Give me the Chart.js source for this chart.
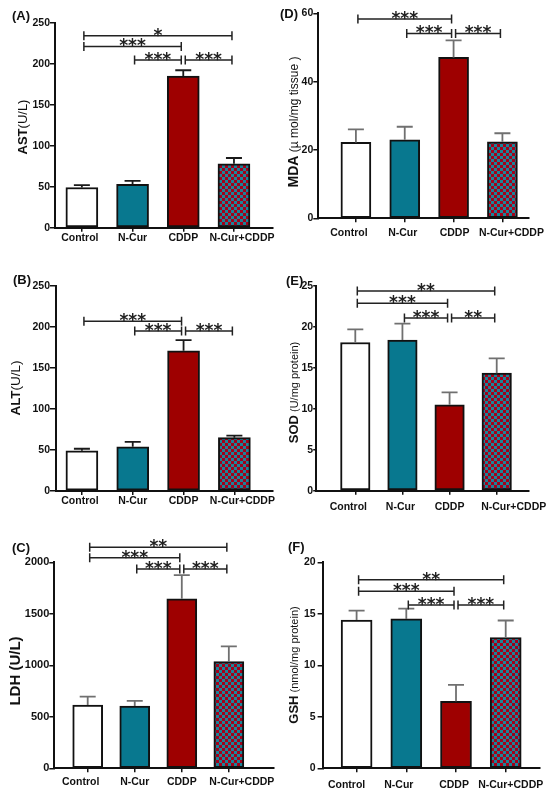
<!DOCTYPE html>
<html>
<head>
<meta charset="utf-8">
<script src="https://cdn.jsdelivr.net/npm/chart.js@4.4.1/dist/chart.umd.min.js"></script>
<style>
  body { margin: 0; background: #fff; }
  #wrap { position: relative; width: 550px; height: 800px; }
  .panel { position: absolute; }
</style>
</head>
<body>
<div id="wrap">
  <div class="panel" style="left:0;top:0;width:275px;height:260px"><canvas id="cA"></canvas></div>
  <div class="panel" style="left:275px;top:0;width:275px;height:260px"><canvas id="cD"></canvas></div>
  <div class="panel" style="left:0;top:260px;width:275px;height:260px"><canvas id="cB"></canvas></div>
  <div class="panel" style="left:275px;top:260px;width:275px;height:260px"><canvas id="cE"></canvas></div>
  <div class="panel" style="left:0;top:520px;width:275px;height:280px"><canvas id="cC"></canvas></div>
  <div class="panel" style="left:275px;top:520px;width:275px;height:280px"><canvas id="cF"></canvas></div>
</div>
<script>
const groups = ['Control', 'N-Cur', 'CDDP', 'N-Cur+CDDP'];

// mean and SEM
const astMean = [49, 53, 185, 78];
const astSem = [3, 4, 7, 7];
const altMean = [49, 54, 171, 65];
const altSem = [2.5, 6, 13, 2.5];
const ldhMean = [615, 605, 1645, 1035];
const ldhSem = [80, 50, 230, 148];
const mdaMean = [22.2, 23, 47.1, 22.4];
const mdaSem = [3.8, 3.8, 5, 2.5];
const sodMean = [18.1, 18.4, 10.5, 14.35];
const sodSem = [1.6, 2, 1.5, 1.8];
const gshMean = [14.4, 14.5, 6.5, 12.7];
const gshSem = [0.9, 1, 1.6, 1.65];

// significance brackets: [from group, to group, height, stars]
const astSig = [[0, 3, 234, '*'], [0, 2, 221, '***'], [1, 2, 204.5, '***'], [2, 3, 204.5, '***']];
const altSig = [[0, 2, 207, '***'], [1, 2, 195, '***'], [2, 3, 195, '***']];
const ldhSig = [[0, 3, 2145, '**'], [0, 2, 2045, '***'], [1, 2, 1935, '***'], [2, 3, 1935, '***']];
const mdaSig = [[0, 2, 58.3, '***'], [1, 2, 54.1, '***'], [2, 3, 54.1, '***']];
const sodSig = [[0, 3, 24.4, '**'], [0, 2, 22.9, '***'], [1, 2, 21.1, '***'], [2, 3, 21.1, '**']];
const gshSig = [[0, 3, 18.3, '**'], [0, 2, 17.2, '***'], [1, 2, 15.85, '***'], [2, 3, 15.85, '***']];

const FONT = 'Arial, "Liberation Sans", Helvetica, sans-serif';

function checker() {
  const c = document.createElement('canvas');
  c.width = 6; c.height = 6;
  const g = c.getContext('2d');
  g.fillStyle = '#1a8499';
  g.fillRect(0, 0, 6, 6);
  g.fillStyle = '#a3001a';
  g.fillRect(0, 0, 3, 3);
  g.fillRect(3, 3, 3, 3);
  return g.createPattern(c, 'repeat');
}
const fills = ['#ffffff', '#08788f', '#9e0000', checker()];

// error bars, brackets, x labels, y title and panel tag
const decor = {
  id: 'decor',
  afterDraw(chart) {
    const p = chart.options.plugins.decor;
    const ctx = chart.ctx;
    const xs = chart.scales.x, ys = chart.scales.y;
    ctx.save();

    ctx.strokeStyle = p.errColor;
    ctx.lineWidth = 1.8;
    p.mean.forEach((m, i) => {
      const x = xs.getPixelForValue(i + 1);
      const y1 = ys.getPixelForValue(m);
      const y2 = ys.getPixelForValue(m + p.sem[i]);
      ctx.beginPath();
      ctx.moveTo(x, y1); ctx.lineTo(x, y2);
      ctx.moveTo(x - 8, y2); ctx.lineTo(x + 8, y2);
      ctx.stroke();
    });

    ctx.strokeStyle = '#222';
    ctx.fillStyle = '#222';
    ctx.lineWidth = 1.5;
    ctx.font = 'bold 17px "DejaVu Sans", ' + FONT;
    ctx.textAlign = 'center';
    ctx.textBaseline = 'alphabetic';
    p.sig.forEach(s => {
      const x1 = xs.getPixelForValue(s[0] + 1) + 2;
      const x2 = xs.getPixelForValue(s[1] + 1) - 2;
      const y = ys.getPixelForValue(s[2]);
      ctx.beginPath();
      ctx.moveTo(x1, y); ctx.lineTo(x2, y);
      ctx.moveTo(x1, y - 4.5); ctx.lineTo(x1, y + 4.5);
      ctx.moveTo(x2, y - 4.5); ctx.lineTo(x2, y + 4.5);
      ctx.stroke();
      ctx.fillText(s[3], (x1 + x2) / 2, y + 5);
    });

    // category labels under the ticks
    ctx.fillStyle = '#111';
    ctx.font = 'bold 10.5px ' + FONT;
    ctx.textBaseline = 'middle';
    groups.forEach((g, i) => {
      ctx.fillText(g, xs.getPixelForValue(i + 1) + p.labelShift[i], chart.chartArea.bottom + p.labelY);
    });

    // rotated y title with mixed fonts
    ctx.textAlign = 'left';
    ctx.textBaseline = 'alphabetic';
    let total = 0;
    p.title.forEach(t => { ctx.font = t[1] + ' ' + FONT; total += ctx.measureText(t[0]).width; });
    ctx.translate(p.titleX + p.titleBase, p.titleY);
    ctx.rotate(-Math.PI / 2);
    let pos = -total / 2;
    p.title.forEach(t => {
      ctx.font = t[1] + ' ' + FONT;
      ctx.fillText(t[0], pos, 0);
      pos += ctx.measureText(t[0]).width;
    });
    ctx.setTransform(1, 0, 0, 1, 0, 0);
    ctx.scale(chart.currentDevicePixelRatio, chart.currentDevicePixelRatio);

    ctx.font = 'bold 13px ' + FONT;
    ctx.textBaseline = 'middle';
    ctx.fillText(p.tag, p.tagX, p.tagY);
    ctx.restore();
  }
};

const panels = [
  { id: 'cA', mean: astMean, sem: astSem, sig: astSig, yMax: 250, yStep: 50, yTick: 5, yPad: 0, yFont: 10.5,
    xMin: 0.47, xMax: 4.77, left: 55, top: 22.7, right: 2, xAxisH: 32.3, barW: 32,
    labelY: 10.3, labelShift: [-2, 0, 0, 8], errColor: '#1a1a1a',
    tag: '(A)', tagX: 12, tagY: 16,
    title: [['AST', 'bold 13px'], ['(U/L)', '13px']], titleX: 22, titleY: 127, titleBase: 4.7 },
  { id: 'cB', mean: altMean, sem: altSem, sig: altSig, yMax: 250, yStep: 50, yTick: 6, yPad: 0, yFont: 10.5,
    xMin: 0.49, xMax: 4.76, left: 56, top: 26, right: 2, xAxisH: 29, barW: 32,
    labelY: 9.7, labelShift: [-2, 0, 0, 8], errColor: '#1a1a1a',
    tag: '(B)', tagX: 13, tagY: 20,
    title: [['ALT', 'bold 13.5px'], ['(U/L)', '13.5px']], titleX: 15, titleY: 128, titleBase: 4.8 },
  { id: 'cC', mean: ldhMean, sem: ldhSem, sig: ldhSig, yMax: 2000, yStep: 500, yTick: 5, yPad: 0, yFont: 11,
    xMin: 0.29, xMax: 4.96, left: 54.3, top: 42.3, right: 1, xAxisH: 31.7, barW: 30,
    labelY: 14, labelShift: [-7, 0, 0, 13], errColor: '#707070',
    tag: '(C)', tagX: 12, tagY: 28,
    title: [['LDH (U/L)', 'bold 15px']], titleX: 14.7, titleY: 151, titleBase: 5.4 },
  { id: 'cD', mean: mdaMean, sem: mdaSem, sig: mdaSig, yMax: 60, yStep: 20, yTick: 5, yPad: 0, yFont: 10.5,
    xMin: 0.23, xMax: 4.53, left: 43.3, top: 13.3, right: 21.7, xAxisH: 41.7, barW: 30,
    labelY: 15, labelShift: [-7, -2, 1, 9], errColor: '#707070',
    tag: '(D)', tagX: 5, tagY: 14,
    title: [['MDA', 'bold 14px'], [' (\u00b5 mol/mg tissue )', '12px']], titleX: 18, titleY: 122, titleBase: 5 },
  { id: 'cE', mean: sodMean, sem: sodSem, sig: sodSig, yMax: 25, yStep: 5, yTick: 2.5, yPad: 0, yFont: 10.5,
    xMin: 0.16, xMax: 4.67, left: 40.7, top: 26, right: 21.7, xAxisH: 29.3, barW: 29.5,
    labelY: 16, labelShift: [-7, -2, 0, 17], errColor: '#707070',
    tag: '(E)', tagX: 11, tagY: 21,
    title: [['SOD', 'bold 13px'], [' (U/mg protein)', '11px']], titleX: 18, titleY: 132.5, titleBase: 4.7 },
  { id: 'cF', mean: gshMean, sem: gshSem, sig: gshSig, yMax: 20, yStep: 5, yTick: 5.7, yPad: 2, yFont: 10.5,
    xMin: 0.33, xMax: 4.69, left: 48.3, top: 42.3, right: 10, xAxisH: 31.7, barW: 31,
    labelY: 16.7, labelShift: [-10, -7.5, -2, 5], errColor: '#707070',
    tag: '(F)', tagX: 13, tagY: 27.5,
    title: [['GSH', 'bold 13px'], [' (nmol/mg protein)', '11px']], titleX: 18, titleY: 145, titleBase: 4.7 }
];

panels.forEach(p => {
  new Chart(document.getElementById(p.id), {
    type: 'bar',
    data: {
      datasets: [{
        data: p.mean.map((v, i) => ({ x: i + 1, y: v })),
        backgroundColor: fills,
        borderColor: '#111',
        borderWidth: 2,
        borderSkipped: false,
        barThickness: p.barW
      }]
    },
    options: {
      responsive: true,
      maintainAspectRatio: false,
      animation: false,
      layout: { padding: { left: 0, top: p.top, right: p.right, bottom: 0 } },
      plugins: { legend: { display: false }, tooltip: { enabled: false }, decor: p },
      scales: {
        x: {
          type: 'linear', min: p.xMin, max: p.xMax, offset: false,
          afterBuildTicks: s => { s.ticks = groups.map((g, i) => ({ value: i + 1 })); },
          afterFit: s => { s.height = p.xAxisH; },
          ticks: { display: false },
          grid: { offset: false, drawOnChartArea: false, drawTicks: true, tickLength: 4, color: '#111', lineWidth: 1.5 },
          border: { color: '#111', width: 2 }
        },
        y: {
          min: 0, max: p.yMax,
          afterFit: s => { s.width = p.left; },
          ticks: {
            stepSize: p.yStep, padding: p.yPad, color: '#111',
            font: { family: FONT, size: p.yFont, weight: 'bold' },
            callback: v => String(v)
          },
          grid: { drawOnChartArea: false, drawTicks: true, tickLength: p.yTick, color: '#111', lineWidth: 1.5 },
          border: { color: '#111', width: 2 }
        }
      }
    },
    plugins: [decor]
  });
});
</script>
</body>
</html>
